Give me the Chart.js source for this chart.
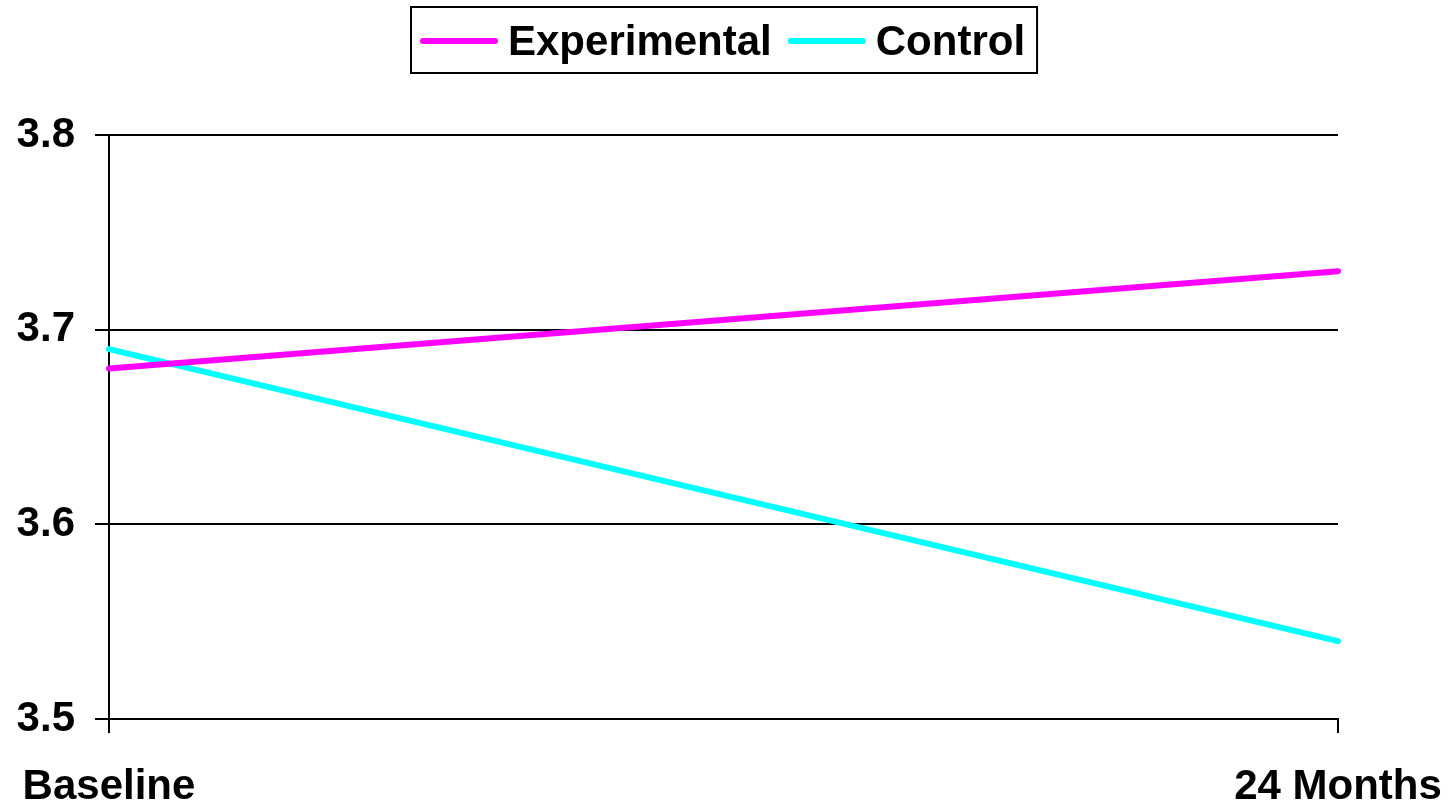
<!DOCTYPE html>
<html>
<head>
<meta charset="utf-8">
<script src="https://cdn.jsdelivr.net/npm/chart.js@4/dist/chart.umd.min.js"></script>
<style>
  html, body { margin: 0; padding: 0; background: #fff; }
  #wrap { width: 1451px; height: 804px; }
</style>
</head>
<body>
<div id="wrap"><canvas id="c" width="1451" height="804"></canvas></div>
<script>
// Time points and group means
const categories = ['Baseline', '24 Months'];
const experimentalValues = [3.68, 3.73];
const controlValues = [3.69, 3.54];
const yTicks = [3.5, 3.6, 3.7, 3.8];

const FONT = "'Liberation Sans', Arial, Helvetica, sans-serif";
const FONT_SIZE = 42;

// Boxed legend along the top: line sample + bold label per series
const boxedLegend = {
  id: 'boxedLegend',
  afterDraw(chart) {
    const ctx = chart.ctx;
    const sets = chart.data.datasets;
    ctx.save();
    ctx.font = 'bold ' + FONT_SIZE + 'px ' + FONT;
    const lineLen = 72, gapText = 13, gapItem = 19, padL = 12, padR = 12;
    const widths = sets.map(d => ctx.measureText(d.label).width);
    let total = padL + padR;
    widths.forEach((w, i) => { total += lineLen + gapText + w + (i ? gapItem : 0); });
    const left = Math.round(chart.width / 2 - total / 2) - 1;
    const top = 7, h = 66, cy = top + h / 2;
    ctx.lineWidth = 2;
    ctx.strokeStyle = '#000';
    ctx.strokeRect(left, top, total, h);
    let x = left + padL;
    sets.forEach((d, i) => {
      if (i) x += gapItem;
      ctx.beginPath();
      ctx.lineCap = 'round';
      ctx.lineWidth = 6;
      ctx.strokeStyle = d.borderColor;
      ctx.moveTo(x, cy + 1);
      ctx.lineTo(x + lineLen, cy + 1);
      ctx.stroke();
      x += lineLen + gapText;
      ctx.fillStyle = '#000';
      ctx.textBaseline = 'middle';
      ctx.textAlign = 'left';
      ctx.fillText(d.label, x, cy + 3);
      x += widths[i];
    });
    ctx.restore();
  }
};

new Chart(document.getElementById('c'), {
  type: 'line',
  data: {
    labels: categories,
    datasets: [
      {
        label: 'Experimental',
        data: experimentalValues,
        borderColor: '#FF00FF',
        backgroundColor: '#FF00FF',
        borderWidth: 6,
        borderCapStyle: 'round',
        pointRadius: 0,
        tension: 0
      },
      {
        label: 'Control',
        data: controlValues,
        borderColor: '#00FFFF',
        backgroundColor: '#00FFFF',
        borderWidth: 6,
        borderCapStyle: 'round',
        pointRadius: 0,
        tension: 0
      }
    ]
  },
  options: {
    responsive: false,
    animation: false,
    layout: { padding: { top: 135, right: 113, left: 16, bottom: 0 } },
    plugins: {
      legend: { display: false },
      tooltip: { enabled: false }
    },
    scales: {
      x: {
        type: 'category',
        offset: false,
        afterFit(scale) {
          scale.height = 85;
          scale.paddingLeft = 0;
          scale.paddingRight = 0;
        },
        grid: {
          drawOnChartArea: false,
          drawTicks: true,
          tickLength: 14,
          color: '#000',
          lineWidth: 2
        },
        border: { display: true, color: '#000', width: 2 },
        ticks: {
          color: '#000',
          padding: 33,
          maxRotation: 0,
          autoSkip: false,
          font: { family: FONT, size: FONT_SIZE, weight: 'bold', lineHeight: 1 }
        }
      },
      y: {
        min: 3.5,
        max: 3.8,
        afterBuildTicks(scale) { scale.ticks = yTicks.map(v => ({ value: v })); },
        afterFit(scale) {
          scale.width = 93;
          scale.paddingTop = 0;
          scale.paddingBottom = 0;
        },
        grid: {
          drawOnChartArea: true,
          drawTicks: true,
          tickLength: 14,
          color: '#000',
          lineWidth: 2
        },
        border: { display: true, color: '#000', width: 2 },
        ticks: {
          color: '#000',
          padding: 20,
          callback: v => v.toFixed(1),
          font: { family: FONT, size: FONT_SIZE, weight: 'bold', lineHeight: 1 }
        }
      }
    }
  },
  plugins: [boxedLegend]
});
</script>
</body>
</html>
